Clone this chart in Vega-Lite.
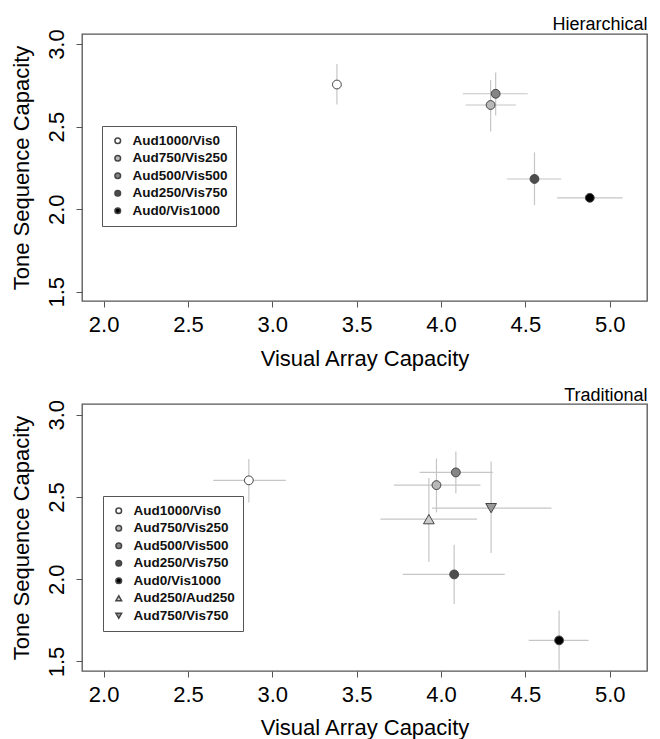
{
  "$schema": "https://vega.github.io/schema/vega-lite/v6.json",
  "background": "white",
  "padding": {"left": 9, "top": 14, "right": 0, "bottom": 0},
  "autosize": {"type": "pad"},
  "bounds": "flush",
  "spacing": 103,
  "config": {
    "font": "Liberation Sans",
    "view": {"stroke": "#555", "strokeWidth": 1.3},
    "axis": {"domain": false, "grid": false, "tickColor": "#555", "tickSize": 6, "tickWidth": 1, "labelFont": "Liberation Sans", "labelFontSize": 22, "labelColor": "#000", "titleFont": "Liberation Sans", "titleFontSize": 22, "titleFontWeight": "normal", "titleColor": "#000", "labelOverlap": false, "labelFlush": false},
    "legend": {"orient": "none", "padding": 8, "strokeColor": "#555", "fillColor": "#fff", "labelFont": "Liberation Sans", "labelFontSize": 13.5, "labelFontWeight": "bold", "labelColor": "#111", "symbolSize": 32, "rowPadding": 2.5, "labelOffset": 8, "symbolOffset": 1}
  },
  "datasets": {
    "hier": [
      {"group": "Aud1000/Vis0", "x": 3.383, "y": 2.755, "xlo": 3.37, "xhi": 3.40, "ylo": 2.634, "yhi": 2.879},
      {"group": "Aud750/Vis250", "x": 4.294, "y": 2.631, "xlo": 4.145, "xhi": 4.444, "ylo": 2.47, "yhi": 2.783},
      {"group": "Aud500/Vis500", "x": 4.324, "y": 2.699, "xlo": 4.129, "xhi": 4.514, "ylo": 2.567, "yhi": 2.828},
      {"group": "Aud250/Vis750", "x": 4.554, "y": 2.183, "xlo": 4.391, "xhi": 4.713, "ylo": 2.024, "yhi": 2.344},
      {"group": "Aud0/Vis1000", "x": 4.882, "y": 2.069, "xlo": 4.688, "xhi": 5.076, "ylo": 2.055, "yhi": 2.083}
    ],
    "trad": [
      {"group": "Aud1000/Vis0", "kind": "circle", "x": 2.861, "y": 2.601, "xlo": 2.65, "xhi": 3.08, "ylo": 2.467, "yhi": 2.73},
      {"group": "Aud750/Vis250", "kind": "circle", "x": 3.973, "y": 2.572, "xlo": 3.721, "xhi": 4.234, "ylo": 2.406, "yhi": 2.734},
      {"group": "Aud500/Vis500", "kind": "circle", "x": 4.088, "y": 2.649, "xlo": 3.873, "xhi": 4.307, "ylo": 2.523, "yhi": 2.777},
      {"group": "Aud250/Vis750", "kind": "circle", "x": 4.078, "y": 2.029, "xlo": 3.774, "xhi": 4.378, "ylo": 1.849, "yhi": 2.21},
      {"group": "Aud0/Vis1000", "kind": "circle", "x": 4.70, "y": 1.628, "xlo": 4.52, "xhi": 4.875, "ylo": 1.45, "yhi": 1.809},
      {"group": "Aud250/Aud250", "kind": "triangle", "x": 3.928, "y": 2.365, "xlo": 3.641, "xhi": 4.214, "ylo": 2.104, "yhi": 2.615},
      {"group": "Aud750/Vis750", "kind": "triangle", "x": 4.297, "y": 2.432, "xlo": 3.947, "xhi": 4.655, "ylo": 2.159, "yhi": 2.716}
    ]
  },
  "vconcat": [
    {
      "width": 565,
      "height": 267,
      "data": {"name": "hier"},
      "resolve": {"axis": {"x": "independent"}},
      "layer": [
        {
          "mark": {"type": "rule", "color": "#c6c6c6", "strokeWidth": 1.2},
          "encoding": {
            "x": {"field": "xlo", "type": "quantitative", "title": "Visual Array Capacity", "scale": {"domain": [1.872, 5.221], "nice": false, "zero": false}, "axis": {"values": [2, 2.5, 3, 3.5, 4, 4.5, 5], "format": ".1f", "labelBaseline": "alphabetic", "labelPadding": 24.7, "titleBaseline": "alphabetic", "titleY": 64.5}},
            "x2": {"field": "xhi"},
            "y": {"field": "y", "type": "quantitative", "title": "Tone Sequence Capacity", "scale": {"domain": [1.444, 3.061], "nice": false, "zero": false}, "axis": {"values": [1.5, 2, 2.5, 3], "format": ".1f", "labelAngle": -90, "labelAlign": "center", "labelBaseline": "alphabetic", "labelPadding": 12.7, "titleAngle": -90, "titleAlign": "center", "titleBaseline": "alphabetic", "titleX": -53.4, "titleY": 133.5}}
          }
        },
        {
          "mark": {"type": "rule", "color": "#c6c6c6", "strokeWidth": 1.2},
          "encoding": {
            "x": {"field": "x", "type": "quantitative", "title": "Hierarchical", "axis": {"orient": "top", "ticks": false, "labels": false, "domain": false, "titleFontSize": 18, "titleAnchor": "end", "titleAlign": "right", "titleBaseline": "alphabetic", "titleX": 565, "titleY": -5}},
            "y": {"field": "ylo", "type": "quantitative", "title": "Tone Sequence Capacity"},
            "y2": {"field": "yhi"}
          }
        },
        {
          "mark": {"type": "point", "filled": true, "stroke": "#444", "strokeWidth": 1, "size": 78, "opacity": 1},
          "encoding": {
            "x": {"field": "x", "type": "quantitative", "axis": null},
            "y": {"field": "y", "type": "quantitative", "title": "Tone Sequence Capacity"},
            "fill": {"field": "group", "type": "nominal", "title": null, "scale": {"domain": ["Aud1000/Vis0", "Aud750/Vis250", "Aud500/Vis500", "Aud250/Vis750", "Aud0/Vis1000"], "range": ["#ffffff", "#b8b8b8", "#858585", "#4d4d4d", "#000000"]}, "legend": {"orient": "none", "legendX": 20, "legendY": 92, "encode": {"symbols": {"update": {"stroke": {"value": "#444"}, "strokeWidth": {"value": 1}}}}}},
            "shape": {"field": "group", "type": "nominal", "title": null, "scale": {"domain": ["Aud1000/Vis0", "Aud750/Vis250", "Aud500/Vis500", "Aud250/Vis750", "Aud0/Vis1000"], "range": ["circle", "circle", "circle", "circle", "circle"]}, "legend": {"orient": "none", "legendX": 20, "legendY": 92}}
          }
        }
      ]
    },
    {
      "width": 565,
      "height": 267,
      "data": {"name": "trad"},
      "resolve": {"axis": {"x": "independent"}},
      "layer": [
        {
          "mark": {"type": "rule", "color": "#c6c6c6", "strokeWidth": 1.2},
          "encoding": {
            "x": {"field": "xlo", "type": "quantitative", "title": "Visual Array Capacity", "scale": {"domain": [1.872, 5.221], "nice": false, "zero": false}, "axis": {"values": [2, 2.5, 3, 3.5, 4, 4.5, 5], "format": ".1f", "labelBaseline": "alphabetic", "labelPadding": 24.7, "titleBaseline": "alphabetic", "titleY": 63.5}},
            "x2": {"field": "xhi"},
            "y": {"field": "y", "type": "quantitative", "title": "Tone Sequence Capacity", "scale": {"domain": [1.442, 3.065], "nice": false, "zero": false}, "axis": {"values": [1.5, 2, 2.5, 3], "format": ".1f", "labelAngle": -90, "labelAlign": "center", "labelBaseline": "alphabetic", "labelPadding": 12.7, "titleAngle": -90, "titleAlign": "center", "titleBaseline": "alphabetic", "titleX": -53.4, "titleY": 133.5}}
          }
        },
        {
          "mark": {"type": "rule", "color": "#c6c6c6", "strokeWidth": 1.2},
          "encoding": {
            "x": {"field": "x", "type": "quantitative", "title": "Traditional", "axis": {"orient": "top", "ticks": false, "labels": false, "domain": false, "titleFontSize": 18, "titleAnchor": "end", "titleAlign": "right", "titleBaseline": "alphabetic", "titleX": 565, "titleY": -4}},
            "y": {"field": "ylo", "type": "quantitative", "title": "Tone Sequence Capacity"},
            "y2": {"field": "yhi"}
          }
        },
        {
          "transform": [{"filter": "datum.kind === 'circle'"}],
          "mark": {"type": "point", "filled": true, "stroke": "#444", "strokeWidth": 1, "size": 78, "opacity": 1},
          "encoding": {
            "x": {"field": "x", "type": "quantitative", "axis": null},
            "y": {"field": "y", "type": "quantitative", "title": "Tone Sequence Capacity"},
            "fill": {"field": "group", "type": "nominal", "title": null, "scale": {"domain": ["Aud1000/Vis0", "Aud750/Vis250", "Aud500/Vis500", "Aud250/Vis750", "Aud0/Vis1000", "Aud250/Aud250", "Aud750/Vis750"], "range": ["#ffffff", "#b8b8b8", "#858585", "#4d4d4d", "#000000", "#cccccc", "#999999"]}, "legend": {"orient": "none", "legendX": 21, "legendY": 92, "encode": {"symbols": {"update": {"stroke": {"value": "#444"}, "strokeWidth": {"value": 1}}}}}},
            "shape": {"field": "group", "type": "nominal", "title": null, "scale": {"domain": ["Aud1000/Vis0", "Aud750/Vis250", "Aud500/Vis500", "Aud250/Vis750", "Aud0/Vis1000", "Aud250/Aud250", "Aud750/Vis750"], "range": ["circle", "circle", "circle", "circle", "circle", "triangle-up", "triangle-down"]}, "legend": {"orient": "none", "legendX": 21, "legendY": 92}}
          }
        },
        {
          "transform": [{"filter": "datum.kind === 'triangle'"}],
          "mark": {"type": "point", "filled": true, "stroke": "#444", "strokeWidth": 1, "size": 115, "opacity": 1},
          "encoding": {
            "x": {"field": "x", "type": "quantitative", "axis": null},
            "y": {"field": "y", "type": "quantitative", "title": "Tone Sequence Capacity"},
            "fill": {"field": "group", "type": "nominal", "title": null},
            "shape": {"field": "group", "type": "nominal", "title": null}
          }
        }
      ]
    }
  ],
  "resolve": {"scale": {"fill": "independent", "shape": "independent", "x": "independent", "y": "independent"}, "legend": {"fill": "independent", "shape": "independent"}}
}
